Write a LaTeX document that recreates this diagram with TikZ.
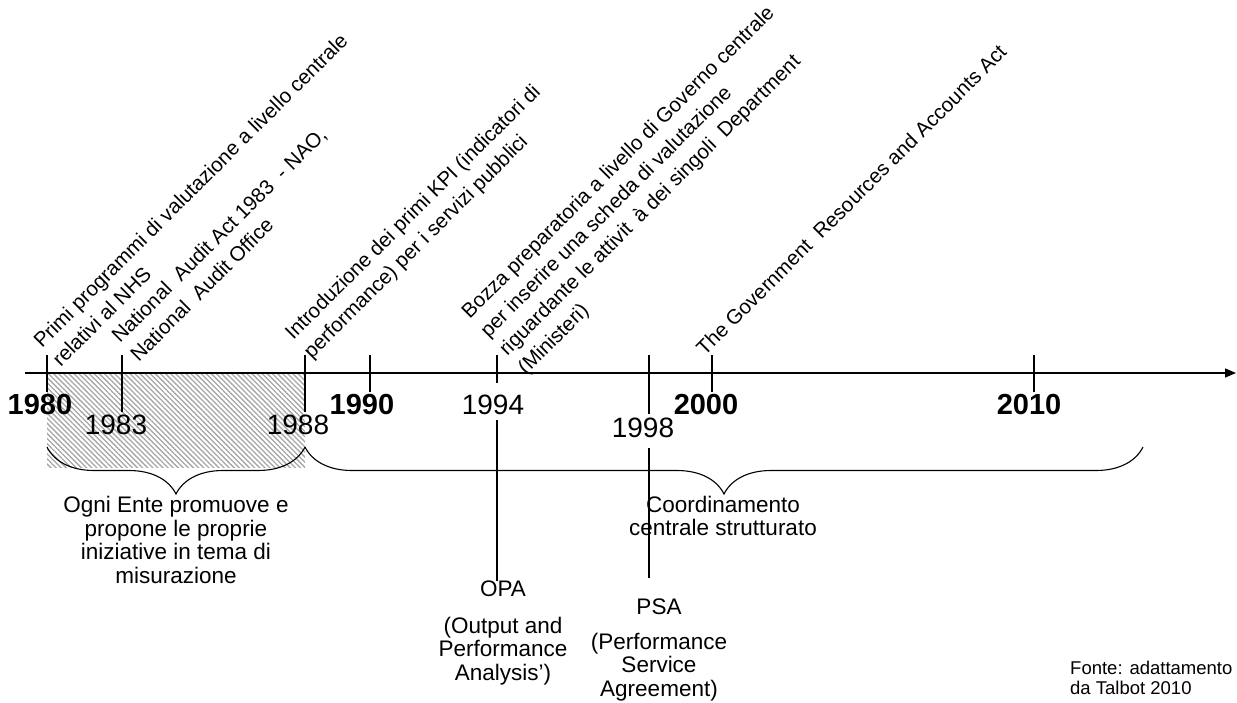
\documentclass[tikz,border=0pt]{standalone}
\usepackage{fontspec}
\setmainfont{Liberation Sans}
\usetikzlibrary{patterns.meta,decorations.pathreplacing,arrows.meta}

\begin{document}
\begin{tikzpicture}[x=1pt,y=-1pt,
  event/.style={rotate=45,anchor=south west,align=left,inner sep=0pt,font=\fontsize{20.5}{26.5}\selectfont},
  bigyear/.style={inner sep=0pt,font=\fontsize{29}{30}\selectfont\bfseries},
  year/.style={inner sep=0pt,font=\fontsize{28}{30}\selectfont},
  note/.style={inner sep=0pt,align=center,font=\fontsize{22.5}{23.5}\selectfont},
  tick/.style={line width=1.1pt},
  curly/.style={line width=1.1pt,decorate,decoration={brace,mirror,amplitude=47pt}}]
\useasboundingbox (0,0) rectangle (1237,702);

% fase 1980-1988
\fill[pattern={Lines[angle=-45,distance=3.6pt,line width=1.3pt]},pattern color=gray!70] (47,373) rectangle (305,467);

% asse del tempo
\coordinate (A0) at (25,373);
\coordinate (A1) at (1236,373);
\draw[line width=1.4pt,-{Triangle[length=11pt,width=9pt]}] (A0) -- (A1);

\draw[tick] (47,355) -- (47,392);
\draw[tick] (122,355) -- (122,412);
\draw[tick] (305,355) -- (305,412);
\draw[tick] (370,355) -- (370,392);
\draw[tick] (497,355) -- (497,383);
\draw[tick] (649,355) -- (649,414);
\draw[tick] (712,355) -- (712,392);
\draw[tick] (1034,355) -- (1034,392);

\draw (40,405) node[bigyear] (Y1980) {1980};
\draw (116,425) node[year] (Y1983) {1983};
\draw (298,425) node[year] (Y1988) {1988};
\draw (362,405) node[bigyear] (Y1990) {1990};
\draw (493,405) node[year] (Y1994) {1994};
\draw (643,428) node[year] (Y1998) {1998};
\draw (706,405) node[bigyear] (Y2000) {2000};
\draw (1029,405) node[bigyear] (Y2010) {2010};

% eventi
\draw (61,368) node[event] (E1980) {Primi programmi di valutazione a livello centrale\\relativi al NHS};
\draw (139,363) node[event] (E1983) {National\ \ Audit Act 1983\ \ - NAO,\\National\ \ Audit Office};
\draw (315,363) node[event] (E1988) {Introduzione dei primi KPI (indicatori di\\performance) per i servizi pubblici};
\draw (529,379) node[event] (E1994) {Bozza preparatoria a livello di Governo centrale\\per inserire una scheda di valutazione\\riguardante le attivit\hspace{0.5em}à dei singoli\ \ Department\\(Ministeri)};
\draw (705,357) node[event] (E2000) {The Government\ \ Resources and Accounts Act};

% graffe
\draw[curly] (47,447) -- (305,447);
\draw[curly] (305,447) -- (1143,447);

\draw (176,540) node[note] (N1) {Ogni Ente promuove e\\propone le proprie\\iniziative in tema di\\misurazione};
\draw (723,516) node[note] (N2) {Coordinamento\\centrale strutturato};
\draw (503,633) node[note] (OPA) {OPA\\[13pt](Output and\\Performance\\Analysis’)};
\draw (659,650) node[note] (PSA) {PSA\\[11pt](Performance\\Service\\Agreement)};

\coordinate (L1994) at (497,420);
\coordinate (L1998) at (649,448);
\coordinate (P1998) at (649,578);
\draw[tick] (L1994) -- (L1994 |- OPA.north) ++(0,-4);
\draw[tick] (L1998) -- (P1998);

\draw (1070,678) node[anchor=west,align=left,inner sep=0pt,font=\fontsize{18.5}{20}\selectfont] (src) {Fonte: adattamento\\da Talbot 2010};
\end{tikzpicture}
\end{document}
